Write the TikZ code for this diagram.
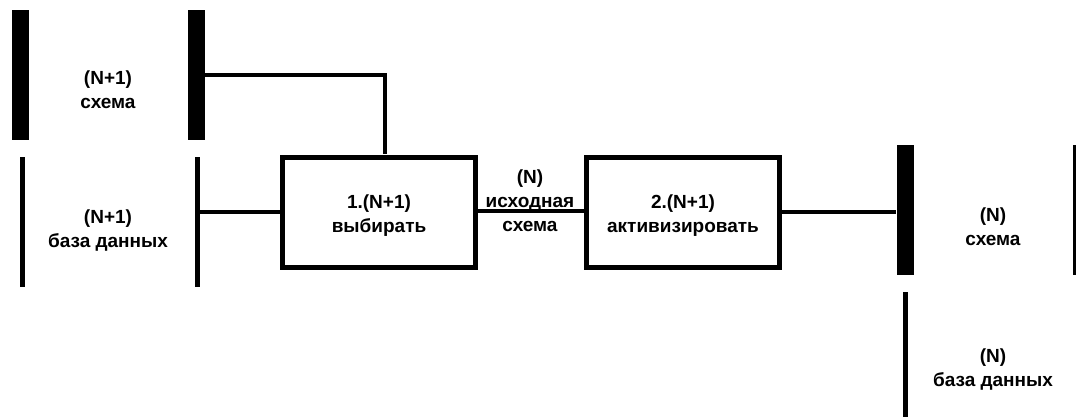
\documentclass[tikz,border=0pt]{standalone}
\usepackage{fontspec}
\setmainfont{Liberation Sans}
\begin{document}
\begin{tikzpicture}[x=1pt,y=-1pt,
  thickbar/.style={rectangle,fill=black,inner sep=0pt,minimum width=17pt,minimum height=130pt},
  thinbar/.style={rectangle,fill=black,inner sep=0pt,minimum width=5pt,minimum height=130pt},
  procbox/.style={rectangle,draw=black,line width=5pt,inner sep=0pt,minimum width=193pt,minimum height=110pt,align=center},
  lbl/.style={align=center,inner sep=0pt,font=\fontsize{19}{24}\selectfont\bfseries},
  conn/.style={line width=4pt}]
\useasboundingbox (0,0) rectangle (1076,417);
\fill[white] (0,0) rectangle (1076,417);
% bars
\node[thickbar] (b1) at (20.5,75) {};
\node[thickbar] (b2) at (196,75) {};
\node[thinbar] (t1) at (22,221.5) {};
\node[thinbar] (t2) at (197,221.5) {};
\node[thickbar] (b3) at (905,210) {};
\node[rectangle,fill=black,inner sep=0pt,minimum width=3pt,minimum height=130pt] (b4) at (1074.5,210) {};
\node[thinbar,minimum height=126pt] (t3) at (905,355) {};
% boxes
\node[procbox] (p1) at (378.5,212) {};
\node[procbox] (p2) at (683,212) {};
% connectors
\coordinate (c1) at (385,75);
\draw[conn] (b2.east |- c1) -| (c1 |- p1.north);
\draw[conn] (t2.east |- 0,212) -- (p1.west |- 0,212);
\draw[conn] (p1.east |- 0,211) -- (p2.west |- 0,211);
\draw[conn] (p2.east |- 0,212) -- (b3.west |- 0,212);
% labels
\node[lbl] (l1) at (108,90) {(N+1)\\схема};
\node[lbl] (l2) at (108,231) {(N+1)\\база данных};
\node[lbl] (l3) at (379,216) {1.(N+1)\\выбирать};
\node[lbl] (l4) at (683,216) {2.(N+1)\\активизировать};
\node[lbl] (l5) at (530,201) {(N)\\исходная\\схема};
\node[lbl] (l6) at (993,227) {(N)\\схема};
\node[lbl] (l7) at (993,370) {(N)\\база данных};
\end{tikzpicture}
\end{document}
